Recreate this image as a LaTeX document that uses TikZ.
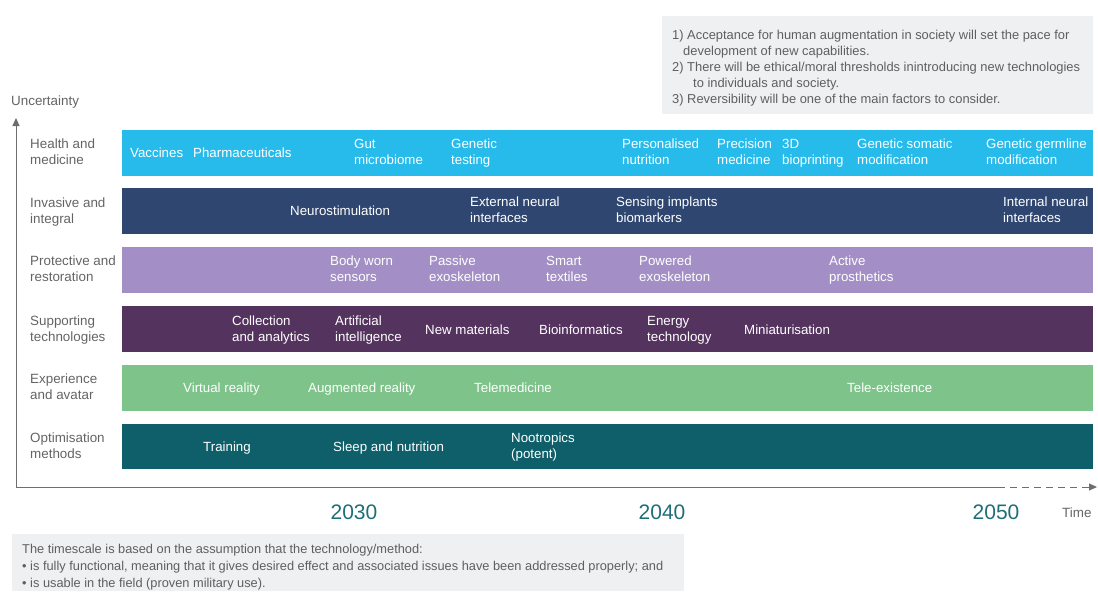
\documentclass[tikz,border=0pt]{standalone}
\usepackage{fontspec}
\setmainfont{Liberation Sans}
\usetikzlibrary{arrows.meta}
\definecolor{cHealth}{RGB}{38,187,235}
\definecolor{cInvasive}{RGB}{47,70,112}
\definecolor{cProtect}{RGB}{163,143,198}
\definecolor{cSupport}{RGB}{85,51,95}
\definecolor{cExper}{RGB}{125,195,138}
\definecolor{cOptim}{RGB}{14,95,105}
\definecolor{cYear}{RGB}{30,110,120}
\definecolor{cLabel}{RGB}{100,100,100}
\definecolor{cAxis}{RGB}{110,110,110}
\definecolor{cNote}{RGB}{239,240,241}
\definecolor{cNoteText}{RGB}{95,95,95}
\begin{document}
\begin{tikzpicture}[x=1pt,y=-1pt,
  band/.style={draw=none, minimum width=971pt, minimum height=46pt, anchor=north west, inner sep=0pt},
  item/.style={anchor=west, text=white, align=left, inner sep=0pt, font=\fontsize{13.3}{16}\selectfont,
    execute at begin node=\strut, execute at end node=\strut},
  cat/.style={anchor=west, text=cLabel, align=left, inner sep=0pt, font=\fontsize{13.4}{16}\selectfont,
    execute at begin node=\strut, execute at end node=\strut},
  year/.style={text=cYear, inner sep=0pt, font=\fontsize{21}{24}\selectfont},
  notebox/.style={fill=cNote, draw=none, anchor=north west, inner sep=0pt},
  notetext/.style={anchor=north west, text=cNoteText, align=left, inner sep=0pt,
    execute at begin node=\strut},
  axis/.style={draw=cAxis, line width=1pt},
  tip/.style={-{Triangle[length=8pt,width=7pt]}}
]
\useasboundingbox (0,0) rectangle (1098,592);

% top note
\node[notebox, minimum width=431pt, minimum height=98pt] (topbox) at (662,16) {};
\node[notetext, font=\fontsize{12.9}{16}\selectfont] (toptext) at (672,29.8) {1) Acceptance for human augmentation in society will set the pace for\\
\hspace*{11pt}development of new capabilities.\\
2) There will be ethical/moral thresholds inintroducing new technologies\\
\hspace*{21pt}to individuals and society.\\
3) Reversibility will be one of the main factors to consider.};

% axes
\coordinate (origin) at (16,487);
\coordinate (ytop) at (16,118);
\coordinate (xdash) at (998,487);
\coordinate (xend) at (1097,487);
\draw[axis, tip] (origin) -- (ytop);
\draw[axis] (origin) -- (xdash);
\draw[axis, tip, dashed, dash pattern=on 7pt off 5pt] (xdash) -- (xend);
\node[cat] (unc) at (11,102) {Uncertainty};
\node[cat] (time) at (1062,514) {Time};

% bands
\node[band, fill=cHealth] (bHealth) at (122,130) {};
\node[band, fill=cInvasive] (bInv) at (122,188) {};
\node[band, fill=cProtect] (bProt) at (122,247) {};
\node[band, fill=cSupport] (bSupp) at (122,306) {};
\node[band, fill=cExper] (bExp) at (122,365) {};
\node[band, fill=cOptim, minimum height=45pt] (bOpt) at (122,424) {};

% categories
\node[cat] (kHealth) at (30,154) {Health and\\medicine};
\node[cat] (kInv) at (30,213) {Invasive and\\integral};
\node[cat] (kProt) at (30,271) {Protective and\\restoration};
\node[cat] (kSupp) at (30,331) {Supporting\\technologies};
\node[cat] (kExp) at (30,389) {Experience\\and avatar};
\node[cat] (kOpt) at (30,448) {Optimisation\\methods};

% health items
\node[item] (h1) at (130,154) {Vaccines};
\node[item] (h2) at (193,154) {Pharmaceuticals};
\node[item] (h3) at (354,154) {Gut\\microbiome};
\node[item] (h4) at (451,154) {Genetic\\testing};
\node[item] (h5) at (622,154) {Personalised\\nutrition};
\node[item] (h6) at (717,154) {Precision\\medicine};
\node[item] (h7) at (782,154) {3D\\bioprinting};
\node[item] (h8) at (857,154) {Genetic somatic\\modification};
\node[item] (h9) at (986,154) {Genetic germline\\modification};

% invasive items
\node[item] (i1) at (290,212) {Neurostimulation};
\node[item] (i2) at (470,212) {External neural\\interfaces};
\node[item] (i3) at (616,212) {Sensing implants\\biomarkers};
\node[item] (i4) at (1003,212) {Internal neural\\interfaces};

% protective items
\node[item] (p1) at (330,271) {Body worn\\sensors};
\node[item] (p2) at (429,271) {Passive\\exoskeleton};
\node[item] (p3) at (546,271) {Smart\\textiles};
\node[item] (p4) at (639,271) {Powered\\exoskeleton};
\node[item] (p5) at (829,271) {Active\\prosthetics};

% supporting items
\node[item] (s1) at (232,331) {Collection\\and analytics};
\node[item] (s2) at (335,331) {Artificial\\intelligence};
\node[item] (s3) at (425,331) {New materials};
\node[item] (s4) at (539,331) {Bioinformatics};
\node[item] (s5) at (647,331) {Energy\\technology};
\node[item] (s6) at (744,331) {Miniaturisation};

% experience items
\node[item] (e1) at (183,389) {Virtual reality};
\node[item] (e2) at (308,389) {Augmented reality};
\node[item] (e3) at (474,389) {Telemedicine};
\node[item] (e4) at (847,389) {Tele-existence};

% optimisation items
\node[item] (o1) at (203,448) {Training};
\node[item] (o2) at (333,448) {Sleep and nutrition};
\node[item] (o3) at (511,448) {Nootropics\\(potent)};

% years
\node[year] (y2030) at (354,512) {2030};
\node[year] (y2040) at (662,512) {2040};
\node[year] (y2050) at (996,512) {2050};

% bottom note
\node[notebox, minimum width=672pt, minimum height=57pt] (botbox) at (12,534) {};
\node[notetext, font=\fontsize{12.8}{17}\selectfont] (bottext) at (22,543.6) {The timescale is based on the assumption that the technology/method:\\
\textbullet\ is fully functional, meaning that it gives desired effect and associated issues have been addressed properly; and\\
\textbullet\ is usable in the field (proven military use).};
\end{tikzpicture}
\end{document}
